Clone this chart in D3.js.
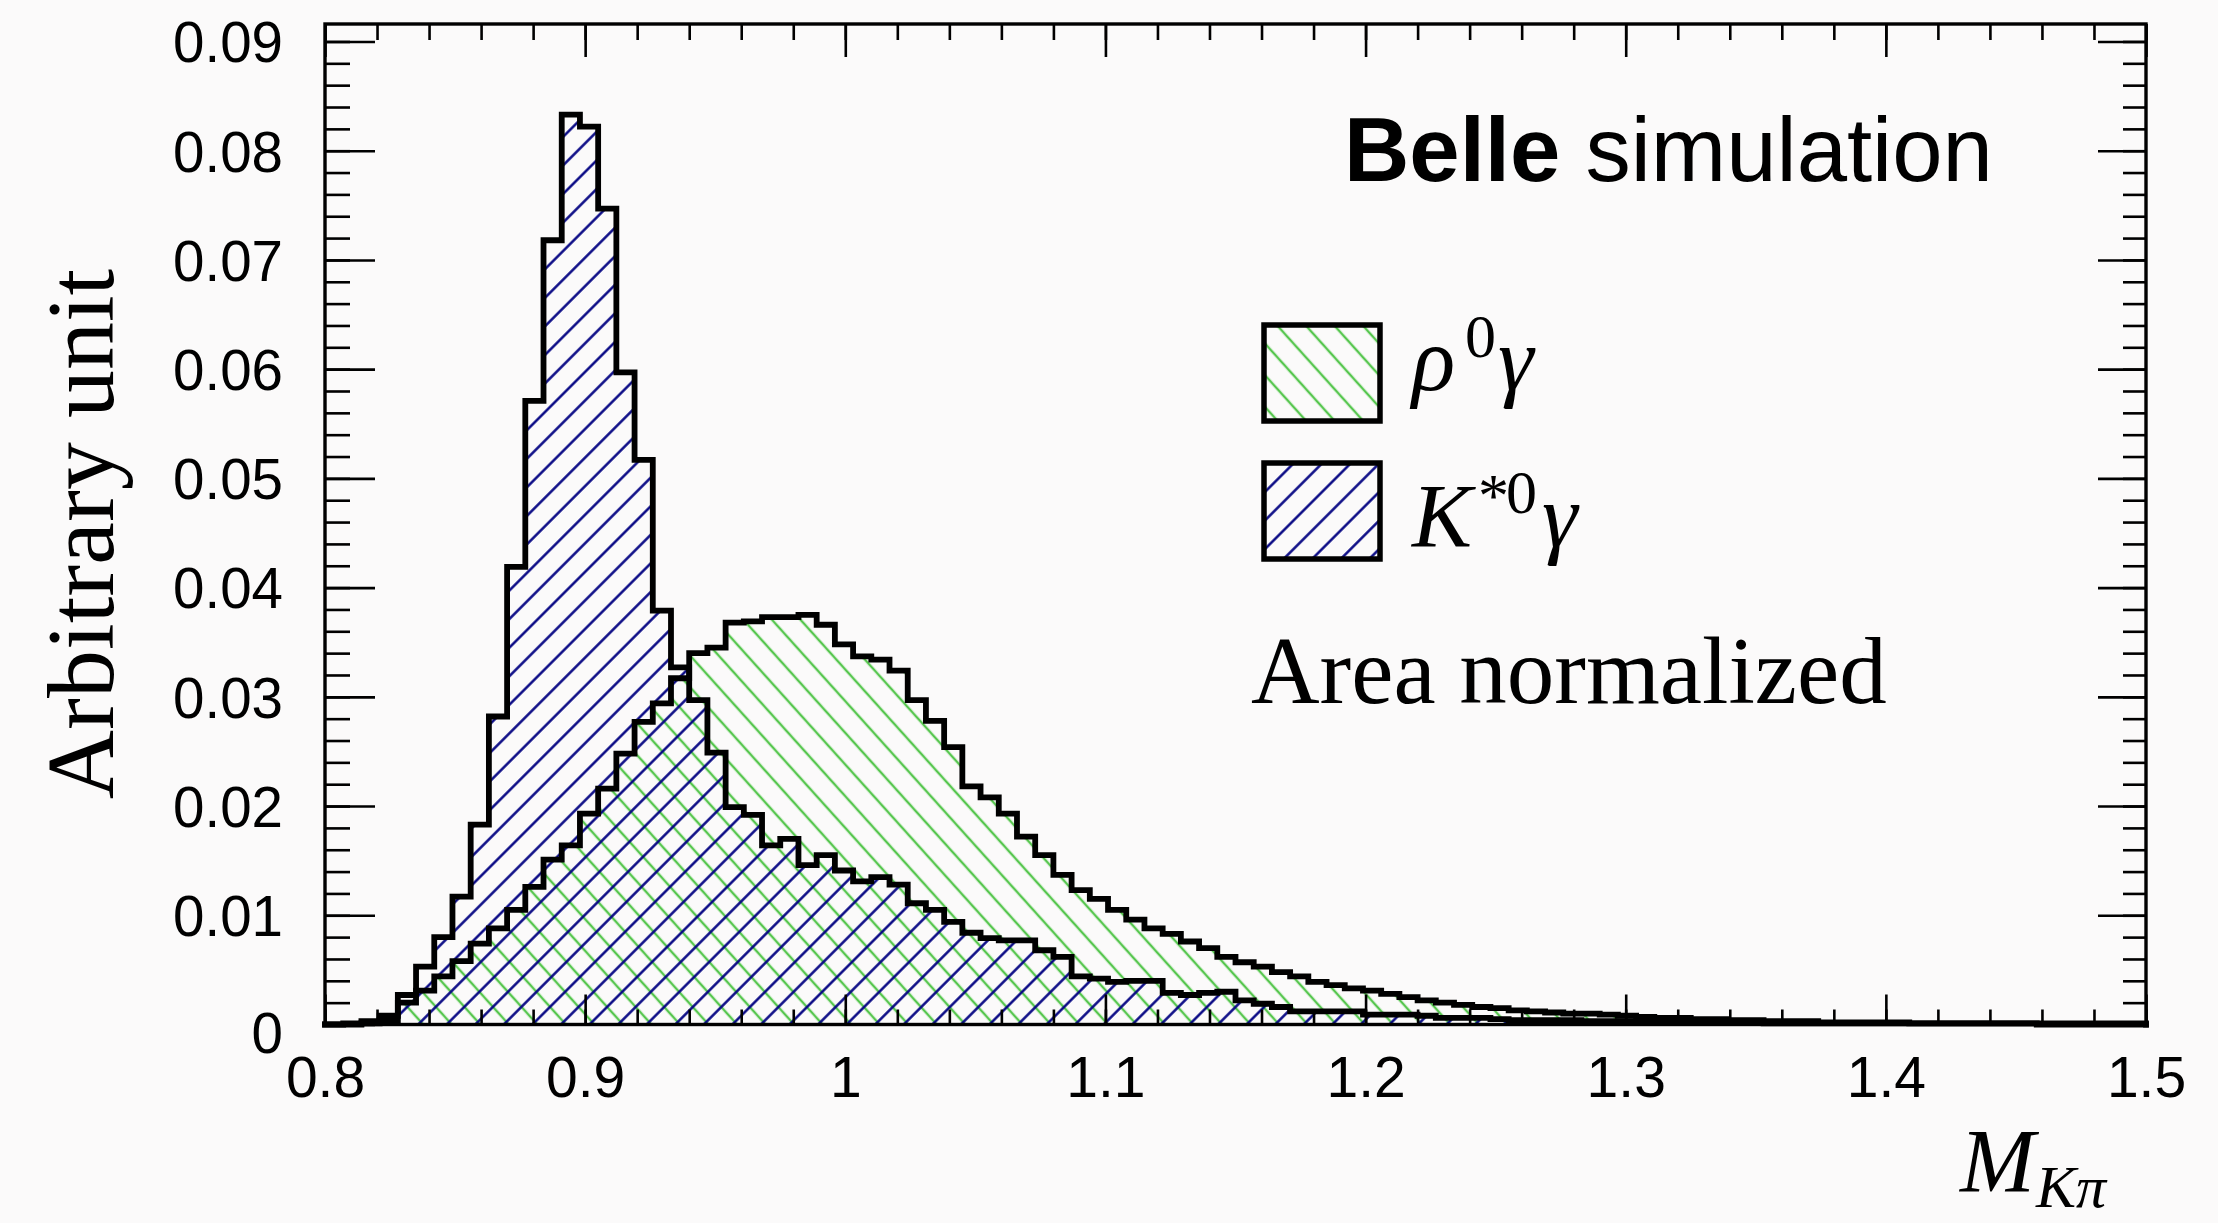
<!DOCTYPE html>
<html>
<head>
<meta charset="utf-8">
<script src="https://cdn.jsdelivr.net/npm/d3@7"></script>
<style>
  html, body { margin: 0; padding: 0; background: #fbfafa; }
  svg { display: block; }
  .tick text { fill: #000; }
</style>
</head>
<body>
<svg id="chart" width="2218" height="1223"></svg>
<script>
// Histogram binning: 100 bins of M(Kπ) between 0.8 and 1.5
const binLow = 0.8;
const binHigh = 1.5;
const nBins = 100;

// Area-normalized MC distributions, one value per bin
const rhoGamma = [
  0, 0, 0.0001, 0.0004, 0.0020, 0.0031, 0.0044, 0.0058, 0.0074, 0.0088,
  0.0105, 0.0126, 0.0151, 0.0164, 0.0193, 0.0216, 0.0248, 0.0277, 0.0294, 0.0317,
  0.0340, 0.0345, 0.0368, 0.0369, 0.0373, 0.0373, 0.0375, 0.0366, 0.0348, 0.0337,
  0.0334, 0.0324, 0.0297, 0.0278, 0.0254, 0.0218, 0.0208, 0.0193, 0.0172, 0.0155,
  0.0137, 0.0123, 0.0115, 0.0105, 0.0096, 0.0088, 0.0083, 0.0076, 0.0070, 0.0062,
  0.0057, 0.0053, 0.0048, 0.0044, 0.0039, 0.0036, 0.0033, 0.0031, 0.0028, 0.0025,
  0.0022, 0.0020, 0.0018, 0.0016, 0.0015, 0.0013, 0.0012, 0.0011, 0.0010, 0.0010,
  0.0009, 0.0008, 0.0007, 0.0006, 0.0006, 0.0005, 0.0005, 0.0004, 0.0004, 0.0003,
  0.0003, 0.0003, 0.0002, 0.0002, 0.0002, 0.0002, 0.0002, 0.0001, 0.0001, 0.0001,
  0.0001, 0.0001, 0.0001, 0.0001, 0.0001, 0.0001, 0.0001, 0.0001, 0.0001, 0.0001
];

const kstarGamma = [
  0, 0.0001, 0.0003, 0.0008, 0.0027, 0.0053, 0.0080, 0.0117, 0.0183, 0.0282,
  0.0419, 0.0571, 0.0718, 0.0833, 0.0822, 0.0747, 0.0597, 0.0517, 0.0379, 0.0327,
  0.0297, 0.0249, 0.0199, 0.0192, 0.0164, 0.0170, 0.0146, 0.0155, 0.0141, 0.0131,
  0.0135, 0.0128, 0.0111, 0.0105, 0.0094, 0.0084, 0.0079, 0.0077, 0.0077, 0.0068,
  0.0062, 0.0044, 0.0042, 0.0039, 0.0040, 0.0040, 0.0029, 0.0027, 0.0029, 0.0030,
  0.0022, 0.0019, 0.0016, 0.0012, 0.0012, 0.0012, 0.0012, 0.0009, 0.0009, 0.0009,
  0.0008, 0.0006, 0.0006, 0.0006, 0.0005, 0.0004, 0.0004, 0.0004, 0.0004, 0.0003,
  0.0003, 0.0003, 0.0003, 0.0002, 0.0002, 0.0002, 0.0002, 0.0002, 0.0002, 0.0001,
  0.0001, 0.0001, 0.0001, 0.0001, 0.0001, 0.0001, 0.0001, 0.0001, 0.0001, 0.0001,
  0.0001, 0.0001, 0.0001, 0.0001, 0, 0, 0, 0, 0, 0
];

// Axis ticks and labels
const xMajorTicks = [0.8, 0.9, 1.0, 1.1, 1.2, 1.3, 1.4, 1.5];
const xTickLabels = ["0.8", "0.9", "1", "1.1", "1.2", "1.3", "1.4", "1.5"];
const yMajorTicks = [0, 0.01, 0.02, 0.03, 0.04, 0.05, 0.06, 0.07, 0.08, 0.09];
const yTickLabels = ["0", "0.01", "0.02", "0.03", "0.04", "0.05", "0.06", "0.07", "0.08", "0.09"];
const yMax = 0.0916;

const svg = d3.select("#chart");
const frame = { left: 325, right: 2146, top: 24, bottom: 1024.5 };

const x = d3.scaleLinear().domain([binLow, binHigh]).range([frame.left, frame.right]);
const y = d3.scaleLinear().domain([0, yMax]).range([frame.bottom, frame.top]);

// Hatch patterns
const defs = svg.append("defs");
function hatch(id, color, angle, spacing, width) {
  const p = defs.append("pattern")
    .attr("id", id)
    .attr("patternUnits", "userSpaceOnUse")
    .attr("width", 40)
    .attr("height", spacing)
    .attr("patternTransform", `rotate(${angle})`);
  p.append("line")
    .attr("x1", -5).attr("x2", 45)
    .attr("y1", spacing / 2).attr("y2", spacing / 2)
    .attr("stroke", color)
    .attr("stroke-width", width);
}
hatch("hatch-rho", "#56c64e", 48, 21.2, 2.6);
hatch("hatch-kstar", "#000080", -45, 20.2, 2.6);

// Step outline of a histogram, closed along the baseline
const binWidth = (binHigh - binLow) / nBins;
function stepPoints(values) {
  const pts = [[binLow, 0]];
  values.forEach((v, i) => {
    pts.push([binLow + i * binWidth, v]);
    pts.push([binLow + (i + 1) * binWidth, v]);
  });
  pts.push([binHigh, 0]);
  return pts;
}
const line = d3.line().x(d => x(d[0])).y(d => y(d[1]));

const series = [
  { values: rhoGamma, fill: "url(#hatch-rho)" },
  { values: kstarGamma, fill: "url(#hatch-kstar)" }
];

const histG = svg.append("g");
series.forEach(s => {
  histG.append("path")
    .attr("d", line(stepPoints(s.values)) + "Z")
    .attr("fill", s.fill)
    .attr("stroke", "none");
});
series.forEach(s => {
  histG.append("path")
    .attr("d", line(stepPoints(s.values)))
    .attr("fill", "none")
    .attr("stroke", "#000")
    .attr("stroke-width", 5.8)
    .attr("stroke-linejoin", "miter")
    .attr("stroke-linecap", "square");
});

// Axes: ticks on all four sides, pointing inward
const xMinor = d3.range(0, 36).map(i => binLow + i * 0.02).filter(v => v <= binHigh + 1e-9);
const yMinor = d3.range(0, 46).map(i => i * 0.002).filter(v => v <= yMax);

function styleAxis(g, width) {
  g.select(".domain").remove();
  g.selectAll(".tick line").attr("stroke", "#000").attr("stroke-width", width);
}

// bottom
svg.append("g").attr("transform", `translate(0,${frame.bottom})`)
  .call(d3.axisBottom(x).tickValues(xMinor).tickSize(-15).tickFormat(""))
  .call(g => styleAxis(g, 2.6));
svg.append("g").attr("transform", `translate(0,${frame.bottom})`)
  .call(d3.axisBottom(x).tickValues(xMajorTicks).tickSize(-30).tickPadding(32)
    .tickFormat((d, i) => xTickLabels[i]))
  .call(g => styleAxis(g, 2.6))
  .call(g => g.selectAll("text")
    .attr("font-family", "'Liberation Sans', Arial, sans-serif")
    .attr("font-size", 57));

// top
svg.append("g").attr("transform", `translate(0,${frame.top})`)
  .call(d3.axisTop(x).tickValues(xMinor).tickSize(-16).tickFormat(""))
  .call(g => styleAxis(g, 2.6));
svg.append("g").attr("transform", `translate(0,${frame.top})`)
  .call(d3.axisTop(x).tickValues(xMajorTicks).tickSize(-33).tickFormat(""))
  .call(g => styleAxis(g, 2.6));

// left
svg.append("g").attr("transform", `translate(${frame.left},0)`)
  .call(d3.axisLeft(y).tickValues(yMinor).tickSize(-25).tickFormat(""))
  .call(g => styleAxis(g, 2.6));
svg.append("g").attr("transform", `translate(${frame.left},0)`)
  .call(d3.axisLeft(y).tickValues(yMajorTicks).tickSize(-50).tickPadding(42)
    .tickFormat((d, i) => yTickLabels[i]))
  .call(g => styleAxis(g, 2.6))
  .call(g => g.selectAll("text")
    .attr("font-family", "'Liberation Sans', Arial, sans-serif")
    .attr("font-size", 56.5)
    .attr("dy", (d) => d === 0 ? "0.5em" : "0.36em"));

// right
svg.append("g").attr("transform", `translate(${frame.right},0)`)
  .call(d3.axisRight(y).tickValues(yMinor).tickSize(-23).tickFormat(""))
  .call(g => styleAxis(g, 2.6));
svg.append("g").attr("transform", `translate(${frame.right},0)`)
  .call(d3.axisRight(y).tickValues(yMajorTicks).tickSize(-48).tickFormat(""))
  .call(g => styleAxis(g, 2.6));

// frame
svg.append("rect")
  .attr("x", frame.left).attr("y", frame.top)
  .attr("width", frame.right - frame.left).attr("height", frame.bottom - frame.top)
  .attr("fill", "none").attr("stroke", "#000").attr("stroke-width", 3.4);

// Axis titles
const serif = "'Liberation Serif', 'Times New Roman', serif";
const sans = "'Liberation Sans', Arial, sans-serif";

svg.append("text")
  .attr("transform", "translate(113,534) rotate(-90)")
  .attr("text-anchor", "middle")
  .attr("font-family", serif).attr("font-size", 96)
  .text("Arbitrary unit");

svg.append("text")
  .attr("x", 1960).attr("y", 1192)
  .attr("font-family", serif).attr("font-style", "italic").attr("font-size", 90)
  .text("M");
svg.append("text")
  .attr("x", 2036).attr("y", 1207)
  .attr("font-family", serif).attr("font-style", "italic").attr("font-size", 60)
  .text("Kπ");

// Experiment label
const belle = svg.append("text")
  .attr("x", 1344).attr("y", 181)
  .attr("font-family", sans).attr("font-size", 90.5);
belle.append("tspan").attr("font-weight", "bold").text("Belle");
belle.append("tspan").text(" simulation");

// Legend
const legend = [
  { fill: "url(#hatch-rho)", boxY: 325, base: 390, name: "ρ", sup: [["0", 1465, 357]], tail: 1498 },
  { fill: "url(#hatch-kstar)", boxY: 463, base: 547, name: "K", sup: [["*", 1478, 516], ["0", 1506, 513]], tail: 1542 }
];
legend.forEach(e => {
  svg.append("rect")
    .attr("x", 1264).attr("y", e.boxY).attr("width", 116).attr("height", 96)
    .attr("fill", e.fill).attr("stroke", "#000").attr("stroke-width", 5.5);
  svg.append("text")
    .attr("x", 1412).attr("y", e.base)
    .attr("font-family", serif).attr("font-style", "italic").attr("font-size", 90)
    .text(e.name);
  e.sup.forEach(s => {
    svg.append("text")
      .attr("x", s[1]).attr("y", s[2])
      .attr("font-family", serif).attr("font-size", 62)
      .text(s[0]);
  });
  svg.append("text")
    .attr("x", e.tail).attr("y", e.base)
    .attr("font-family", serif).attr("font-style", "italic").attr("font-size", 90)
    .text("γ");
});

svg.append("text")
  .attr("x", 1251).attr("y", 703)
  .attr("font-family", serif).attr("font-size", 95)
  .text("Area normalized");
</script>
</body>
</html>
